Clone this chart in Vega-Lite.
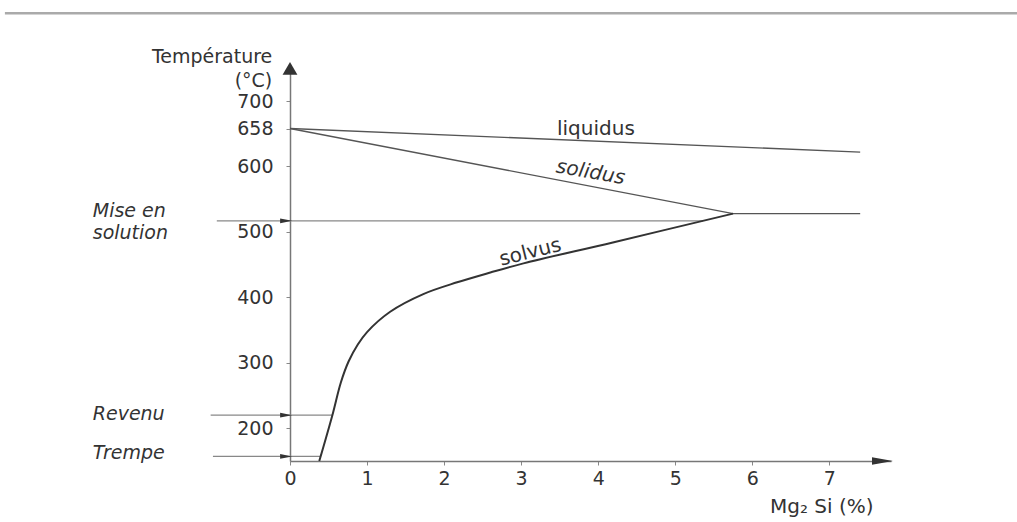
{
  "$schema": "https://vega.github.io/schema/vega-lite/v6.json",
  "width": 601,
  "height": 394,
  "autosize": {"type": "none"},
  "padding": {"left": 290, "top": 67, "right": 126, "bottom": 61},
  "background": "white",
  "config": {
    "view": {"stroke": null},
    "font": "DejaVu Sans",
    "axis": {"grid": false, "title": null, "domainColor": "#777", "domainWidth": 1.5, "tickColor": "#888", "tickSize": 4, "labelColor": "#333", "labelFont": "DejaVu Sans", "labelFontSize": 19, "labelFlush": false, "labelOverlap": false}
  },
  "datasets": {
    "curves": [
      {"series": "liquidus", "x": 0, "T": 658},
      {"series": "liquidus", "x": 7.4, "T": 622},
      {"series": "solidus", "x": 0, "T": 658},
      {"series": "solidus", "x": 5.75, "T": 528},
      {"series": "solidus", "x": 7.4, "T": 528},
      {"series": "mise", "x": -0.95, "T": 517},
      {"series": "mise", "x": 5.36, "T": 517},
      {"series": "revenu", "x": -1.03, "T": 220},
      {"series": "revenu", "x": 0.55, "T": 220},
      {"series": "trempe", "x": -1.0, "T": 157},
      {"series": "trempe", "x": 0.4, "T": 157},
      {"series": "solvus", "x": 0.38, "T": 150},
      {"series": "solvus", "x": 0.55, "T": 220},
      {"series": "solvus", "x": 0.66, "T": 270},
      {"series": "solvus", "x": 0.76, "T": 302},
      {"series": "solvus", "x": 0.88, "T": 328},
      {"series": "solvus", "x": 1.0, "T": 347},
      {"series": "solvus", "x": 1.3, "T": 378},
      {"series": "solvus", "x": 1.73, "T": 405},
      {"series": "solvus", "x": 2.17, "T": 423},
      {"series": "solvus", "x": 2.6, "T": 438},
      {"series": "solvus", "x": 3.03, "T": 452},
      {"series": "solvus", "x": 4.19, "T": 484},
      {"series": "solvus", "x": 5.75, "T": 528},
      {"series": "frame", "x": -3.7, "T": 834},
      {"series": "frame", "x": 9.44, "T": 834}
    ],
    "labels": [
      {"name": "ytitle", "text": "Température", "x": -0.23, "T": 768},
      {"name": "ytitle", "text": "(°C)", "x": -0.23, "T": 731},
      {"name": "left", "text": "Mise en", "x": -2.56, "T": 532},
      {"name": "left", "text": "solution", "x": -2.56, "T": 498},
      {"name": "left", "text": "Revenu", "x": -2.56, "T": 222},
      {"name": "left", "text": "Trempe", "x": -2.56, "T": 162},
      {"name": "liquidus", "text": "liquidus", "x": 3.97, "T": 658},
      {"name": "solidus", "text": "solidus", "x": 3.9, "T": 591},
      {"name": "solvus", "text": "solvus", "x": 3.12, "T": 469},
      {"name": "xtitle", "text": "Mg₂ Si (%)", "x": 6.23, "T": 80}
    ],
    "arrows": [
      {"kind": "small", "x": -0.05, "T": 517},
      {"kind": "small", "x": -0.05, "T": 220},
      {"kind": "small", "x": -0.05, "T": 157},
      {"kind": "xaxis", "x": 7.69, "T": 150},
      {"kind": "yaxis", "x": 0, "T": 750}
    ]
  },
  "layer": [
    {
      "data": {"name": "curves"},
      "transform": [{"filter": "datum.series === 'frame'"}],
      "mark": {"type": "line", "color": "#aaaaaa", "strokeWidth": 2.5},
      "encoding": {
        "x": {"field": "x", "type": "quantitative", "scale": {"domain": [0, 7.8], "nice": false, "zero": false}, "axis": {"values": [0, 1, 2, 3, 4, 5, 6, 7], "labelPadding": 4, "format": "d"}},
        "y": {"field": "T", "type": "quantitative", "scale": {"domain": [150, 752], "nice": false, "zero": false}, "axis": {"values": [200, 300, 400, 500, 600, 658, 700], "labelPadding": 13, "format": "d"}},
        "detail": {"field": "series"}
      }
    },
    {
      "data": {"name": "curves"},
      "transform": [{"filter": "datum.series === 'mise' || datum.series === 'revenu' || datum.series === 'trempe'"}],
      "mark": {"type": "line", "color": "#888", "strokeWidth": 1.2},
      "encoding": {
        "x": {"field": "x", "type": "quantitative", "scale": {"domain": [0, 7.8], "nice": false, "zero": false}},
        "y": {"field": "T", "type": "quantitative", "scale": {"domain": [150, 752], "nice": false, "zero": false}},
        "detail": {"field": "series"}
      }
    },
    {
      "data": {"name": "curves"},
      "transform": [{"filter": "datum.series === 'liquidus' || datum.series === 'solidus'"}],
      "mark": {"type": "line", "color": "#555", "strokeWidth": 1.4},
      "encoding": {
        "x": {"field": "x", "type": "quantitative", "scale": {"domain": [0, 7.8], "nice": false, "zero": false}},
        "y": {"field": "T", "type": "quantitative", "scale": {"domain": [150, 752], "nice": false, "zero": false}},
        "detail": {"field": "series"}
      }
    },
    {
      "data": {"name": "curves"},
      "transform": [{"filter": "datum.series === 'solvus'"}],
      "mark": {"type": "line", "color": "#333", "strokeWidth": 2, "interpolate": "catmull-rom"},
      "encoding": {
        "x": {"field": "x", "type": "quantitative", "scale": {"domain": [0, 7.8], "nice": false, "zero": false}},
        "y": {"field": "T", "type": "quantitative", "scale": {"domain": [150, 752], "nice": false, "zero": false}}
      }
    },
    {
      "data": {"name": "arrows"},
      "transform": [{"filter": "datum.kind === 'small'"}],
      "mark": {"type": "point", "shape": "M-1,-0.4L1,0L-1,0.4Z", "size": 144, "filled": true, "color": "#333", "opacity": 1},
      "encoding": {
        "x": {"field": "x", "type": "quantitative", "scale": {"domain": [0, 7.8], "nice": false, "zero": false}},
        "y": {"field": "T", "type": "quantitative", "scale": {"domain": [150, 752], "nice": false, "zero": false}}
      }
    },
    {
      "data": {"name": "arrows"},
      "transform": [{"filter": "datum.kind === 'xaxis'"}],
      "mark": {"type": "point", "shape": "M-1,-0.35L1,0L-1,0.35Z", "size": 441, "filled": true, "color": "#333", "opacity": 1},
      "encoding": {
        "x": {"field": "x", "type": "quantitative", "scale": {"domain": [0, 7.8], "nice": false, "zero": false}},
        "y": {"field": "T", "type": "quantitative", "scale": {"domain": [150, 752], "nice": false, "zero": false}}
      }
    },
    {
      "data": {"name": "arrows"},
      "transform": [{"filter": "datum.kind === 'yaxis'"}],
      "mark": {"type": "point", "shape": "triangle-up", "size": 220, "filled": true, "color": "#333", "opacity": 1},
      "encoding": {
        "x": {"field": "x", "type": "quantitative", "scale": {"domain": [0, 7.8], "nice": false, "zero": false}},
        "y": {"field": "T", "type": "quantitative", "scale": {"domain": [150, 752], "nice": false, "zero": false}}
      }
    },
    {
      "data": {"name": "labels"},
      "transform": [{"filter": "datum.name === 'ytitle'"}],
      "mark": {"type": "text", "align": "right", "baseline": "middle", "fontSize": 19, "color": "#333"},
      "encoding": {
        "x": {"field": "x", "type": "quantitative", "scale": {"domain": [0, 7.8], "nice": false, "zero": false}},
        "y": {"field": "T", "type": "quantitative", "scale": {"domain": [150, 752], "nice": false, "zero": false}},
        "text": {"field": "text"}
      }
    },
    {
      "data": {"name": "labels"},
      "transform": [{"filter": "datum.name === 'left'"}],
      "mark": {"type": "text", "align": "left", "baseline": "middle", "fontSize": 19, "fontStyle": "italic", "color": "#333"},
      "encoding": {
        "x": {"field": "x", "type": "quantitative", "scale": {"domain": [0, 7.8], "nice": false, "zero": false}},
        "y": {"field": "T", "type": "quantitative", "scale": {"domain": [150, 752], "nice": false, "zero": false}},
        "text": {"field": "text"}
      }
    },
    {
      "data": {"name": "labels"},
      "transform": [{"filter": "datum.name === 'liquidus'"}],
      "mark": {"type": "text", "align": "center", "baseline": "middle", "fontSize": 20, "color": "#333"},
      "encoding": {
        "x": {"field": "x", "type": "quantitative", "scale": {"domain": [0, 7.8], "nice": false, "zero": false}},
        "y": {"field": "T", "type": "quantitative", "scale": {"domain": [150, 752], "nice": false, "zero": false}},
        "text": {"field": "text"}
      }
    },
    {
      "data": {"name": "labels"},
      "transform": [{"filter": "datum.name === 'solidus'"}],
      "mark": {"type": "text", "align": "center", "baseline": "middle", "fontSize": 20, "fontStyle": "italic", "angle": 10, "color": "#333"},
      "encoding": {
        "x": {"field": "x", "type": "quantitative", "scale": {"domain": [0, 7.8], "nice": false, "zero": false}},
        "y": {"field": "T", "type": "quantitative", "scale": {"domain": [150, 752], "nice": false, "zero": false}},
        "text": {"field": "text"}
      }
    },
    {
      "data": {"name": "labels"},
      "transform": [{"filter": "datum.name === 'solvus'"}],
      "mark": {"type": "text", "align": "center", "baseline": "middle", "fontSize": 20, "angle": 346, "color": "#333"},
      "encoding": {
        "x": {"field": "x", "type": "quantitative", "scale": {"domain": [0, 7.8], "nice": false, "zero": false}},
        "y": {"field": "T", "type": "quantitative", "scale": {"domain": [150, 752], "nice": false, "zero": false}},
        "text": {"field": "text"}
      }
    },
    {
      "data": {"name": "labels"},
      "transform": [{"filter": "datum.name === 'xtitle'"}],
      "mark": {"type": "text", "align": "left", "baseline": "middle", "fontSize": 20, "color": "#333"},
      "encoding": {
        "x": {"field": "x", "type": "quantitative", "scale": {"domain": [0, 7.8], "nice": false, "zero": false}},
        "y": {"field": "T", "type": "quantitative", "scale": {"domain": [150, 752], "nice": false, "zero": false}},
        "text": {"field": "text"}
      }
    }
  ]
}
